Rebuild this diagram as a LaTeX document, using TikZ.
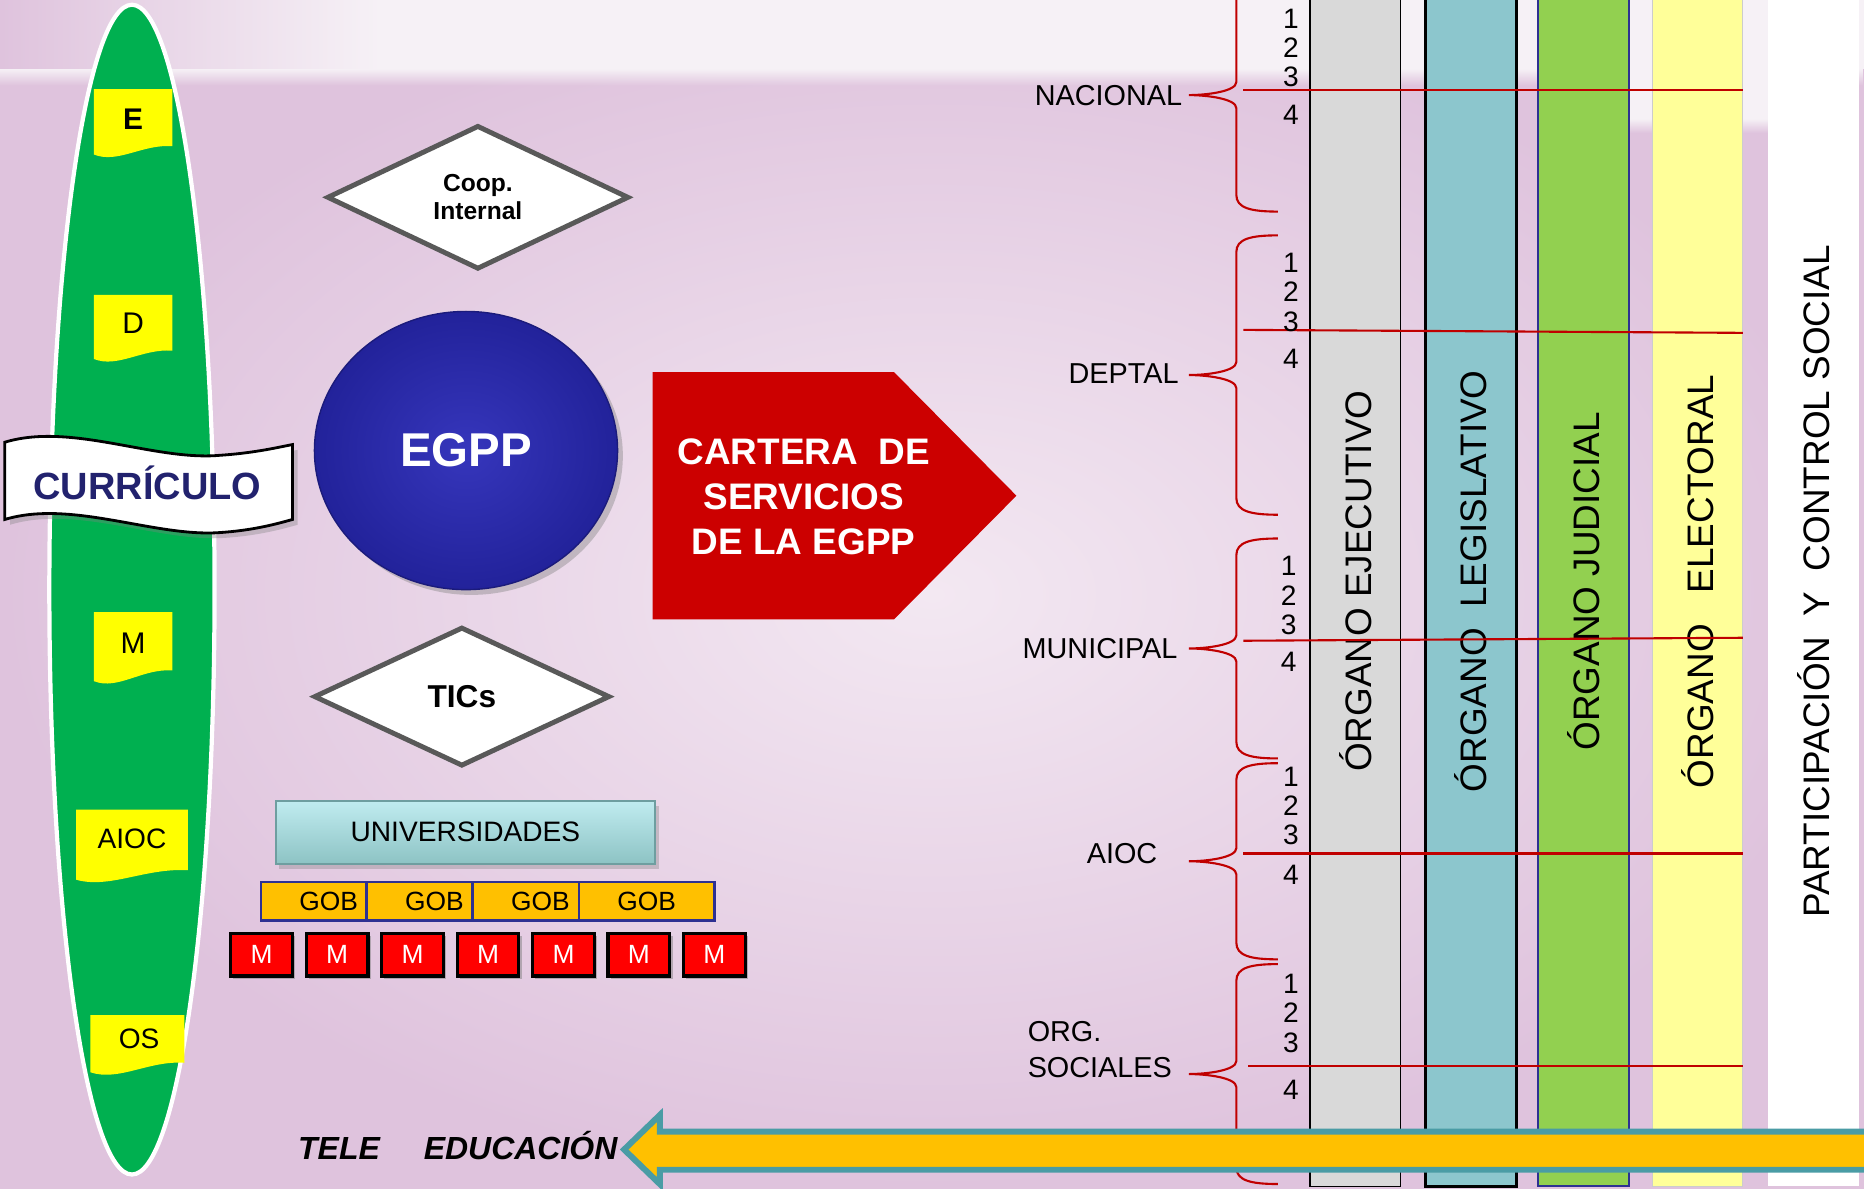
\documentclass[tikz,border=0pt]{standalone}
\usepackage{fontspec}
\setmainfont{Liberation Sans}
\usetikzlibrary{shapes.geometric,shadows,fadings}

\definecolor{lila}{HTML}{DFC3DD}
\definecolor{lilalight}{HTML}{F3E8F2}
\definecolor{topband}{HTML}{F6F1F6}
\definecolor{curgreen}{HTML}{00B050}
\definecolor{tabyellow}{HTML}{FFFF00}
\definecolor{curnavy}{HTML}{22226E}
\definecolor{egppin}{HTML}{3636BC}
\definecolor{egppout}{HTML}{22229A}
\definecolor{cartred}{HTML}{CC0000}
\definecolor{gobfill}{HTML}{FFC000}
\definecolor{gobline}{HTML}{2E3192}
\definecolor{unitop}{HTML}{C0ECF0}
\definecolor{unibot}{HTML}{8DC3C4}
\definecolor{unidraw}{HTML}{6E9EA0}
\definecolor{bracered}{HTML}{C00000}
\definecolor{ejecgray}{HTML}{D9D9D9}
\definecolor{legblue}{HTML}{8CC6CD}
\definecolor{judgreen}{HTML}{92D050}
\definecolor{elecyellow}{HTML}{FFFF99}
\definecolor{teleteal}{HTML}{4A9CA5}

\newcommand{\levelbrace}[3]{%
  \draw[bracered, line width=0.6pt] (1075,#1) .. controls (1052,#1) and (1040,#1+3) .. (1040,#1+14)
    -- (1040,#3-11) .. controls (1040,#3-3) and (1015,#3) .. (1000,#3)
    .. controls (1015,#3) and (1040,#3+3) .. (1040,#3+11)
    -- (1040,#2-14) .. controls (1040,#2-3) and (1052,#2) .. (1075,#2);}

\begin{document}
\begin{tikzpicture}[x=0.1189mm, y=-0.1189mm,
    sz/.style 2 args={minimum width=#1*0.1189mm, minimum height=#2*0.1189mm, inner sep=0pt},
    diam/.style={diamond, aspect=2, draw=black!65, line width=1.4pt, fill=white, inner sep=0pt, align=center},
    gob/.style={sz={114}{32}, fill=gobfill, draw=gobline, line width=0.8pt, font=\fontsize{7.5}{9}\selectfont},
    mbox/.style={sz={52}{36}, fill=red, draw=black, line width=0.9pt, text=white, font=\fontsize{7.5}{9}\selectfont,
      drop shadow={shadow xshift=0.8pt, shadow yshift=-0.8pt, opacity=0.5}},
    level/.style={anchor=east, inner sep=1pt, font=\fontsize{8.2}{10.2}\selectfont},
    num/.style={inner sep=0pt, align=center, font=\fontsize{8}{8.3}\selectfont},
    redline/.style={draw=bracered, line width=0.6pt},
    organ/.style={rotate=90, sz={1018}{76}, font=\fontsize{10.5}{12}\selectfont},
  ]
  \useasboundingbox (0,0) rectangle (1568,1000);
  \shade[inner color=lilalight, outer color=lila] (0,0) rectangle (1568,1000);
  \shade[left color=lila, right color=topband] (0,0) rectangle (320,58);
  \fill[topband] (320,0) rectangle (1568,58);
  \fill[topband, path fading=south] (0,58) rectangle (1568,72);
  \fill[topband] (1370,0) rectangle (1490,100);
  \fill[topband, path fading=south] (1370,100) rectangle (1490,112);

  \node[ellipse, sz={139}{984}, fill=curgreen, draw=white, line width=1.2pt] (curric) at (111,496) {};

  \fill[tabyellow] (79,75) -- (145,75) -- (145,123) .. controls (120,121) and (99,138) .. (79,130) -- cycle;
  \node[font=\bfseries\fontsize{8.5}{10}\selectfont] (tabe) at (112,100) {E};
  \fill[tabyellow] (79,248) -- (145,248) -- (145,295) .. controls (120,293) and (99,310) .. (79,302) -- cycle;
  \node[font=\fontsize{8.5}{10}\selectfont] (tabd) at (112,272) {D};
  \fill[tabyellow] (79,515) -- (145,515) -- (145,564) .. controls (120,562) and (99,581) .. (79,573) -- cycle;
  \node[font=\fontsize{8.5}{10}\selectfont] (tabm) at (112,541) {M};
  \fill[tabyellow] (64,681) -- (158,681) -- (158,732) .. controls (122,730) and (92,748) .. (64,740) -- cycle;
  \node[font=\fontsize{8}{10}\selectfont] (tabaioc) at (111,706) {AIOC};
  \fill[tabyellow] (76,854) -- (155,854) -- (155,894) .. controls (125,892) and (100,910) .. (76,902) -- cycle;
  \node[font=\fontsize{8}{10}\selectfont] (tabos) at (117,874) {OS};

  \filldraw[fill=white, draw=black, line width=0.8pt, drop shadow={shadow xshift=1.5pt, shadow yshift=-1.5pt, opacity=0.35}]
    (4,372) .. controls (60,355) and (130,388) .. (185,383) .. controls (215,381) and (235,376) .. (246,374)
    -- (246,437) .. controls (235,440) and (215,446) .. (185,448) .. controls (130,452) and (60,420) .. (4,437) -- cycle;
  \node[text=curnavy, font=\bfseries\fontsize{10.8}{12}\selectfont] (curriculo) at (124,406) {CURRÍCULO};

  \node[diam, sz={254}{121}, font=\bfseries\fontsize{7}{8}\selectfont] (coop) at (402,166) {Coop.\\Internal};
  \node[ellipse, sz={255}{234}, inner color=egppin, outer color=egppout, draw=egppout!80!black, line width=0.4pt,
    text=white, font=\bfseries\fontsize{13.5}{15}\selectfont,
    drop shadow={shadow xshift=1.5pt, shadow yshift=-1.5pt, opacity=0.4}] (egpp) at (392,379) {EGPP};
  \node[diam, sz={249}{117}, font=\bfseries\fontsize{9}{10}\selectfont] (tics) at (388.5,586) {TICs};

  \fill[cartred] (549,313) -- (752,313) -- (855,417) -- (752,521) -- (549,521) -- cycle;
  \node[text=white, align=center, font=\bfseries\fontsize{10.5}{12.8}\selectfont] (cartera) at (676,418) {CARTERA\ \ DE\\SERVICIOS\\DE LA EGPP};

  \node[sz={319}{53}, top color=unitop, bottom color=unibot, draw=unidraw, line width=0.6pt, font=\fontsize{8}{9}\selectfont,
    drop shadow={shadow xshift=1pt, shadow yshift=-1.5pt, opacity=0.35}] (univ) at (391.5,700) {UNIVERSIDADES};
  \node[gob] (gob1) at (276.5,758) {GOB};
  \node[gob] (gob2) at (365.5,758) {GOB};
  \node[gob] (gob3) at (454.5,758) {GOB};
  \node[gob] (gob4) at (544,758) {GOB};
  \node[mbox] (m1) at (220,803) {M};
  \node[mbox] (m2) at (283.5,803) {M};
  \node[mbox] (m3) at (347,803) {M};
  \node[mbox] (m4) at (410.5,803) {M};
  \node[mbox] (m5) at (474,803) {M};
  \node[mbox] (m6) at (537.5,803) {M};
  \node[mbox] (m7) at (601,803) {M};

  \node[organ, fill=ejecgray, draw=black, line width=0.5pt] (ejec) at (1140,489) {ÓRGANO EJECUTIVO};
  \node[organ, fill=legblue, draw=black, line width=0.8pt, sz={1018}{77}] (legis) at (1237.5,489) {ÓRGANO\ \ LEGISLATIVO};
  \node[organ, fill=judgreen, draw=gobline, line width=0.6pt] (judic) at (1332,489) {ÓRGANO JUDICIAL};
  \node[organ, fill=elecyellow, draw=black!20, line width=0.4pt] (elec) at (1428,489) {ÓRGANO\ \ \ ELECTORAL};
  \node[organ, fill=white, sz={1018}{77}] (partic) at (1525.5,489) {PARTICIPACIÓN\ \ Y\ \ CONTROL SOCIAL};

  \levelbrace{-18}{178}{80}
  \levelbrace{198}{433}{315.5}
  \levelbrace{453}{638}{545.5}
  \levelbrace{642}{807}{724.5}
  \levelbrace{811}{996}{903.5}
  \node[level] (nacional) at (998,80) {NACIONAL};
  \node[level] (deptal) at (995,314) {DEPTAL};
  \node[level] (municipal) at (994,546) {MUNICIPAL};
  \node[level] (aioc) at (977,718) {AIOC};
  \node[level, anchor=south west, align=left] (orgsoc) at (861,910) {ORG.\\SOCIALES};

  \draw[redline] (1046,75.5) -- (1466,75.5);
  \draw[redline] (1046,277.5) -- (1466,280);
  \draw[redline] (1046,539) -- (1466,536.5);
  \draw[redline] (1046,718) -- (1466,718);
  \draw[redline] (1050,896.5) -- (1466,896.5);

  \node[num] (nac123) at (1086,40.5) {1\\2\\3};
  \node[num] (nac4) at (1086,97) {4};
  \node[num] (dep123) at (1086,246) {1\\2\\3};
  \node[num] (dep4) at (1086,302) {4};
  \node[num] (mun123) at (1084,501) {1\\2\\3};
  \node[num] (mun4) at (1084,557) {4};
  \node[num] (aioc123) at (1086,678) {1\\2\\3};
  \node[num] (aioc4) at (1086,736) {4};
  \node[num] (org123) at (1086,852.5) {1\\2\\3};
  \node[num] (org4) at (1086,917) {4};

  \filldraw[fill=gobfill, draw=teleteal, line width=1.7pt] (525,967) -- (555,938) -- (555,952) -- (1590,952)
    -- (1590,984) -- (555,984) -- (555,996) -- cycle;
  \node[anchor=base east, inner sep=0pt, font=\bfseries\itshape\fontsize{9.1}{11}\selectfont] (tele) at (520,975) {TELE\hspace{12.5pt}EDUCACIÓN};
\end{tikzpicture}
\end{document}
